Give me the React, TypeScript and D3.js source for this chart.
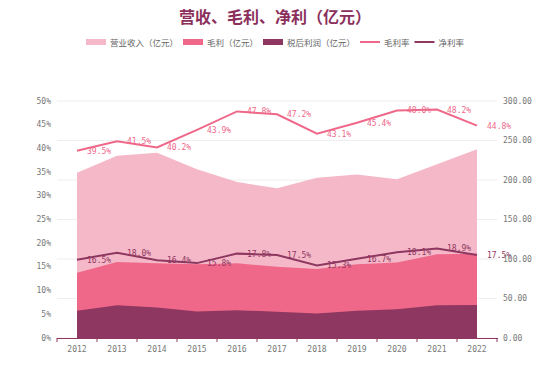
import React from "react";
import * as d3 from "d3";

const years = ["2012","2013","2014","2015","2016","2017","2018","2019","2020","2021","2022"];
const revenue = [209.2, 230.8, 234.5, 213.5, 197.5, 189.5, 203, 207, 201, 220, 239];
const grossProfit = [82.7, 96.2, 94.5, 93.5, 94.5, 90.3, 87.3, 93.5, 95.5, 106, 106.5];
const netProfit = [34.6, 41.4, 38.5, 33.7, 35.2, 33.2, 31.1, 34.6, 36.4, 41.6, 41.8];
const grossMargin = [39.5, 41.5, 40.2, 43.9, 47.8, 47.2, 43.1, 45.4, 48.0, 48.2, 44.8];
const netMargin = [16.5, 18.0, 16.4, 15.8, 17.8, 17.5, 15.3, 16.7, 18.1, 18.9, 17.5];
const leftTicks = [0, 5, 10, 15, 20, 25, 30, 35, 40, 45, 50];
const rightTicks = [0, 50, 100, 150, 200, 250, 300];
const legendNames = ["营业收入（亿元）", "毛利（亿元）", "税后利润（亿元）", "毛利率", "净利率"];

const C_REV = "#f5b8c8";
const C_GP = "#ef6889";
const C_NP = "#8e3760";
const C_GM = "#ef6889";
const C_NM = "#8e3760";

export default function App() {
  const W = 550, H = 376;
  const left = 57, right = 497, top = 101, bottom = 338;
  const x = d3.scaleBand<string>().domain(years).range([left, right]);
  const cx = (i: number) => (x(years[i]) as number) + x.bandwidth() / 2;
  const yL = d3.scaleLinear().domain([0, 50]).range([bottom, top]);
  const yR = d3.scaleLinear().domain([0, 300]).range([bottom, top]);

  const area = (vals: number[]) =>
    d3.area<number>().x((_, i) => cx(i)).y0(yR(0)).y1((d) => yR(d))(vals) || "";
  const line = (vals: number[]) =>
    d3.line<number>().x((_, i) => cx(i)).y((d) => yL(d))(vals) || "";

  const mono = "'DejaVu Sans Mono', monospace";
  const cjk = "'Noto Sans CJK SC', 'Noto Sans', sans-serif";

  // legend layout
  const lfs = 8.5, sw = 20, sgap = 4, igap = 5;
  const widths = legendNames.map((n) => sw + sgap + n.length * lfs);
  const total = d3.sum(widths) + igap * (legendNames.length - 1);
  let lx = W / 2 - total / 2;
  const legendColors = [C_REV, C_GP, C_NP, C_GM, C_NM];
  const legendItems = legendNames.map((n, i) => {
    const x0 = lx;
    lx += widths[i] + igap;
    return { n, x0, c: legendColors[i], isLine: i >= 3 };
  });
  const ly = 42;

  return (
    <svg width={W} height={H} style={{ position: "absolute", left: 0, top: 0, background: "#fff" }}>
      <text x={W / 2} y={23} textAnchor="middle" fontFamily={cjk} fontSize={16} fontWeight="bold" fill="#8b2f5c">
        营收、毛利、净利（亿元）
      </text>
      {legendItems.map((it, i) => (
        <g key={i}>
          {it.isLine ? (
            <line x1={it.x0} x2={it.x0 + sw} y1={ly} y2={ly} stroke={it.c} strokeWidth={2} />
          ) : (
            <rect x={it.x0} y={ly - 3} width={sw} height={6} fill={it.c} />
          )}
          <text x={it.x0 + sw + sgap} y={ly} dominantBaseline="central" fontFamily={cjk} fontSize={lfs} fill="#666">
            {it.n}
          </text>
        </g>
      ))}
      {rightTicks.map((t) => (
        <line key={t} x1={left} x2={right} y1={yR(t)} y2={yR(t)} stroke="#eeeeee" strokeWidth={1} />
      ))}
      <path d={area(revenue)} fill={C_REV} />
      <path d={area(grossProfit)} fill={C_GP} />
      <path d={area(netProfit)} fill={C_NP} />
      <path d={line(grossMargin)} fill="none" stroke={C_GM} strokeWidth={2} />
      <path d={line(netMargin)} fill="none" stroke={C_NM} strokeWidth={2} />
      {grossMargin.map((v, i) => (
        <text key={"g" + i} x={cx(i) + 10} y={yL(v) + 0.5} dominantBaseline="central" fontFamily={mono} fontSize={8} fill={C_GM}>
          {v.toFixed(1)}%
        </text>
      ))}
      {netMargin.map((v, i) => (
        <text key={"n" + i} x={cx(i) + 10} y={yL(v) + 0.5} dominantBaseline="central" fontFamily={mono} fontSize={8} fill={C_NM}>
          {v.toFixed(1)}%
        </text>
      ))}
      <line x1={left} x2={right + 1} y1={bottom + 0.5} y2={bottom + 0.5} stroke={C_NM} strokeWidth={1} />
      {d3.range(years.length + 1).map((i) => {
        const tx = left + i * x.bandwidth();
        return <line key={i} x1={tx} x2={tx} y1={bottom} y2={bottom + 4} stroke={C_NM} strokeWidth={1} />;
      })}
      {years.map((yv, i) => (
        <text key={yv} x={cx(i)} y={bottom + 11} dominantBaseline="central" textAnchor="middle" fontFamily={mono} fontSize={8} fill="#777">
          {yv}
        </text>
      ))}
      {leftTicks.map((t) => (
        <text key={t} x={51} y={yL(t)} dominantBaseline="central" textAnchor="end" fontFamily={mono} fontSize={8} fill="#777">
          {t}%
        </text>
      ))}
      {rightTicks.map((t) => (
        <text key={t} x={503} y={yR(t)} dominantBaseline="central" textAnchor="start" fontFamily={mono} fontSize={8} fill="#777">
          {t.toFixed(2)}
        </text>
      ))}
    </svg>
  );
}
